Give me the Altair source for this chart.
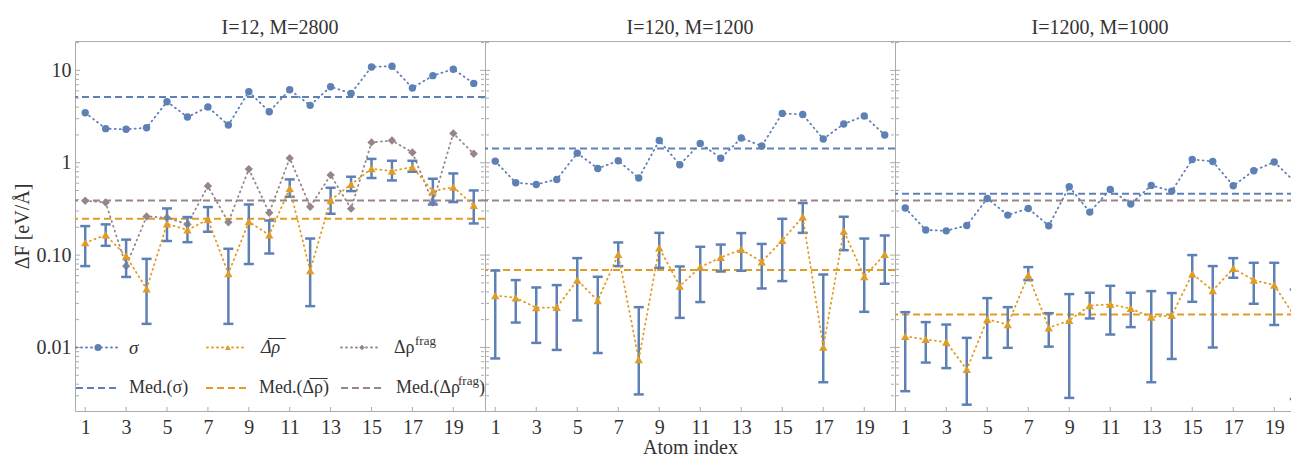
import altair as alt
import pandas as pd

FONT = "Liberation Serif"
BLUE = "#5E81B5"
ORANGE = "#E19C24"
GRAY = "#978589"
FRAME = "#ababab"
TEXT = "#333333"

atoms = list(range(1, 21))
odd_atoms = list(range(1, 20, 2))
titles = ["I=12, M=2800", "I=120, M=1200", "I=1200, M=1000"]

# ---- panel 1: I=12, M=2800 ----
sigma1 = [3.48, 2.34, 2.30, 2.39, 4.58, 3.13, 4.01, 2.56, 5.88, 3.57,
          6.18, 4.18, 6.66, 5.63, 10.9, 11.1, 6.45, 8.77, 10.3, 7.23]
frag1 = [0.388, 0.371, 0.076, 0.262, 0.254, 0.215, 0.559, 0.227, 0.854, 0.287,
         1.12, 0.334, 0.735, 0.318, 1.66, 1.74, 1.29, 0.371, 2.08, 1.25]
drho1 = [0.136, 0.165, 0.0975, 0.043, 0.218, 0.187, 0.243, 0.063, 0.23, 0.165,
         0.527, 0.068, 0.394, 0.582, 0.861, 0.813, 0.898, 0.493, 0.545, 0.345]
hi1 = [0.206, 0.215, 0.147, 0.091, 0.32, 0.258, 0.331, 0.117, 0.353, 0.237,
       0.66, 0.151, 0.536, 0.705, 1.10, 1.05, 1.05, 0.671, 0.766, 0.501]
lo1 = [0.076, 0.126, 0.058, 0.018, 0.142, 0.138, 0.179, 0.018, 0.080, 0.104,
       0.428, 0.028, 0.28, 0.493, 0.683, 0.643, 0.799, 0.353, 0.375, 0.220]

# ---- panel 2: I=120, M=1200 ----
sigma2 = [1.04, 0.607, 0.582, 0.659, 1.27, 0.867, 1.05, 0.683, 1.74, 0.952,
          1.62, 1.12, 1.85, 1.52, 3.42, 3.33, 1.81, 2.63, 3.21, 2.0]
drho2 = [0.0365, 0.0345, 0.0269, 0.0271, 0.0536, 0.0322, 0.1016, 0.0074, 0.120, 0.0461,
         0.0741, 0.0942, 0.115, 0.0846, 0.144, 0.26, 0.0101, 0.182, 0.0586, 0.1016]
hi2 = [0.068, 0.0536, 0.0446, 0.0473, 0.0927, 0.0582, 0.137, 0.0273, 0.174, 0.0753,
       0.123, 0.130, 0.173, 0.132, 0.247, 0.366, 0.0616, 0.26, 0.151, 0.163]
lo2 = [0.0076, 0.0186, 0.0112, 0.0094, 0.0196, 0.0087, 0.076, 0.0031, 0.0728, 0.0209,
       0.031, 0.0664, 0.0676, 0.0435, 0.0523, 0.174, 0.0042, 0.113, 0.0243, 0.0489]

# ---- panel 3: I=1200, M=1000 ----
sigma3 = [0.323, 0.187, 0.183, 0.209, 0.410, 0.271, 0.320, 0.208, 0.550, 0.292,
          0.514, 0.357, 0.568, 0.493, 1.086, 1.033, 0.563, 0.819, 1.018, 0.622]
drho3 = [0.0132, 0.0122, 0.0114, 0.00577, 0.0201, 0.0177, 0.0607, 0.0163, 0.0196, 0.0284,
         0.0292, 0.0264, 0.0213, 0.0222, 0.0627, 0.0413, 0.0716, 0.0536, 0.0473, 0.0215]
hi3 = [0.0241, 0.0188, 0.0177, 0.0127, 0.0342, 0.0273, 0.0741, 0.0235, 0.0378, 0.0391,
       0.0465, 0.0391, 0.0407, 0.0388, 0.100, 0.076, 0.0927, 0.0825, 0.0825, 0.0424]
lo3 = [0.00336, 0.00686, 0.00597, 0.0024, 0.0077, 0.0099, 0.0536, 0.0102, 0.00284, 0.0206,
       0.0138, 0.0166, 0.0042, 0.0075, 0.0312, 0.00998, 0.0568, 0.0297, 0.0175, 0.00277]

med_sigma = [5.15, 1.43, 0.46]
med_drho = [0.247, 0.0688, 0.0227]
med_frag = [0.39, 0.39, 0.39]

y_major = [0.01, 0.1, 1, 10]
y_minor = [0.003, 0.004, 0.005, 0.006, 0.007, 0.008, 0.009,
           0.02, 0.03, 0.04, 0.05, 0.06, 0.07, 0.08, 0.09,
           0.2, 0.3, 0.4, 0.5, 0.6, 0.7, 0.8, 0.9,
           2, 3, 4, 5, 6, 7, 8, 9, 20]

sigmas = [sigma1, sigma2, sigma3]
drhos = [drho1, drho2, drho3]
his = [hi1, hi2, hi3]
los = [lo1, lo2, lo3]

H = 370
W = 410
x_max = [20.55, 20.5, 20.5]
YDOM = [0.00205, 20.8]

one = pd.DataFrame({"k": [0]})
dotted = dict(strokeDash=[1, 4], strokeWidth=1.8, strokeCap="round")
dashed = dict(strokeDash=[7, 4], strokeWidth=2)


def panel(k):
    df = pd.DataFrame({"atom": atoms, "sigma": sigmas[k], "drho": drhos[k],
                       "lo": los[k], "hi": his[k]})
    xs = alt.Scale(domain=[0.5, x_max[k]], nice=False, zero=False)
    ys = alt.Scale(type="log", domain=YDOM, nice=False)
    xa = alt.Axis(values=odd_atoms, tickSize=0, domain=False, grid=False,
                  labelFont=FONT, labelFontSize=20, labelColor=TEXT, labelPadding=6,
                  labelFlush=False,
                  title=("Atom index" if k == 1 else None),
                  titleFont=FONT, titleFontSize=20, titleFontWeight="normal",
                  titleColor=TEXT, titlePadding=0)
    if k == 0:
        ya = alt.Axis(values=y_major, tickSize=0, domain=False, grid=False,
                      labelExpr="datum.value < 0.05 ? '0.01' : datum.value < 0.5 ? '0.10' : datum.value < 5 ? '1' : '10'",
                      labelFont=FONT, labelFontSize=20, labelColor=TEXT, labelPadding=4,
                      labelFlush=False,
                      title="ΔF  [eV/Å]", titleFont=FONT, titleFontSize=20,
                      titleFontWeight="normal", titleColor=TEXT, titlePadding=3.5)
    else:
        ya = None

    def X(f):
        return alt.X(f"{f}:Q", scale=xs, axis=xa)

    def Y(f):
        return alt.Y(f"{f}:Q", scale=ys, axis=ya)

    base = alt.Chart(df)
    layers = []
    # median lines
    for val, col in [(med_sigma[k], BLUE), (med_frag[k], GRAY), (med_drho[k], ORANGE)]:
        layers.append(alt.Chart(pd.DataFrame({"m": [val]})).mark_rule(color=col, **dashed)
                      .encode(y=Y("m")))
    # fragment series (panel 1 only)
    if k == 0:
        fdf = pd.DataFrame({"atom": atoms, "frag": frag1})
        layers.append(alt.Chart(fdf).mark_line(color=GRAY, **dotted).encode(x=X("atom"), y=Y("frag")))
        layers.append(alt.Chart(fdf).mark_point(shape="diamond", filled=True, size=70, opacity=1,
                                                color=GRAY).encode(x=X("atom"), y=Y("frag")))
    # error bars
    layers.append(base.mark_rule(color=BLUE, strokeWidth=2.5).encode(x=X("atom"), y=Y("lo"), y2="hi:Q"))
    layers.append(base.mark_tick(orient="horizontal", color=BLUE, size=10, thickness=2.5, opacity=1)
                  .encode(x=X("atom"), y=Y("lo")))
    layers.append(base.mark_tick(orient="horizontal", color=BLUE, size=10, thickness=2.5, opacity=1)
                  .encode(x=X("atom"), y=Y("hi")))
    # mean density difference
    layers.append(base.mark_line(color=ORANGE, **dotted).encode(x=X("atom"), y=Y("drho")))
    layers.append(base.mark_point(shape="triangle-up", filled=True, size=70, opacity=1, color=ORANGE)
                  .encode(x=X("atom"), y=Y("drho")))
    # sigma
    layers.append(base.mark_line(color=BLUE, **dotted).encode(x=X("atom"), y=Y("sigma")))
    layers.append(base.mark_point(shape="circle", filled=True, size=55, opacity=1, color=BLUE)
                  .encode(x=X("atom"), y=Y("sigma")))

    # inward frame ticks
    ytk = pd.DataFrame({"v": y_major + y_minor,
                        "len": [5] * len(y_major) + [3] * len(y_minor)})
    for xpos in [2.5, W - 2.5]:
        layers.append(alt.Chart(ytk).mark_tick(orient="horizontal", color=FRAME, thickness=1, opacity=1)
                      .encode(y=Y("v"), x=alt.value(xpos),
                              size=alt.Size("len:Q", scale=None, legend=None)))
    xtk = pd.DataFrame({"t": odd_atoms})
    layers.append(alt.Chart(xtk).mark_tick(orient="vertical", color=FRAME, thickness=1, size=4, opacity=1)
                  .encode(x=X("t"), y=alt.value(H - 2)))

    if k == 0:
        r1, r2 = 306.5, 347
        # row 1: series
        for (xa0, xa1, xm, col, shp, sz) in [(1, 42, 23, BLUE, "circle", 50),
                                              (132, 170, 153, ORANGE, "triangle-up", 32),
                                              (266, 304, 287, GRAY, "diamond", 32)]:
            layers.append(alt.Chart(one).mark_rule(color=col, **dotted)
                          .encode(x=alt.value(xa0), x2=alt.value(xa1), y=alt.value(r1)))
            layers.append(alt.Chart(one).mark_point(shape=shp, filled=True, size=sz, opacity=1, color=col)
                          .encode(x=alt.value(xm), y=alt.value(r1)))
        # row 2: medians
        for (xa0, xa1, col) in [(1, 42, BLUE), (131, 171, ORANGE), (266, 306, GRAY)]:
            layers.append(alt.Chart(one).mark_rule(color=col, **dashed)
                          .encode(x=alt.value(xa0), x2=alt.value(xa1), y=alt.value(r2)))
        texts = [
            (54, r1, "σ", 19, "italic"),
            (186, r1, "Δ̅ρ̅", 18, "italic"),
            (319, r1, "Δρ", 18, "normal"),
            (340, r1 - 7, "frag", 13, "normal"),
            (54, r2, "Med.(σ)", 18, "normal"),
            (184, r2, "Med.(Δ̅ρ̅)", 18, "normal"),
            (321, r2, "Med.(Δρ", 18, "normal"),
            (383, r2 - 7, "frag", 13, "normal"),
            (404, r2, ")", 18, "normal"),
        ]
        for (tx, ty, s, fs, st) in texts:
            layers.append(alt.Chart(one).mark_text(align="left", baseline="middle", font=FONT,
                                                   fontSize=fs, fontStyle=st, color=TEXT)
                          .encode(x=alt.value(tx), y=alt.value(ty), text=alt.value(s)))

    return alt.layer(*layers).properties(
        width=W, height=H,
        title=alt.TitleParams(text=titles[k], font=FONT, fontSize=20, fontWeight="normal",
                              color=TEXT, offset=3))


chart = alt.hconcat(panel(0), panel(1), panel(2), spacing=0, bounds="flush").properties(
    padding={"left": 4, "top": 9, "right": -16, "bottom": -4}
).configure_view(stroke=FRAME, strokeWidth=1)

chart.save("out.html", embed_options={"renderer": "svg", "actions": False})
